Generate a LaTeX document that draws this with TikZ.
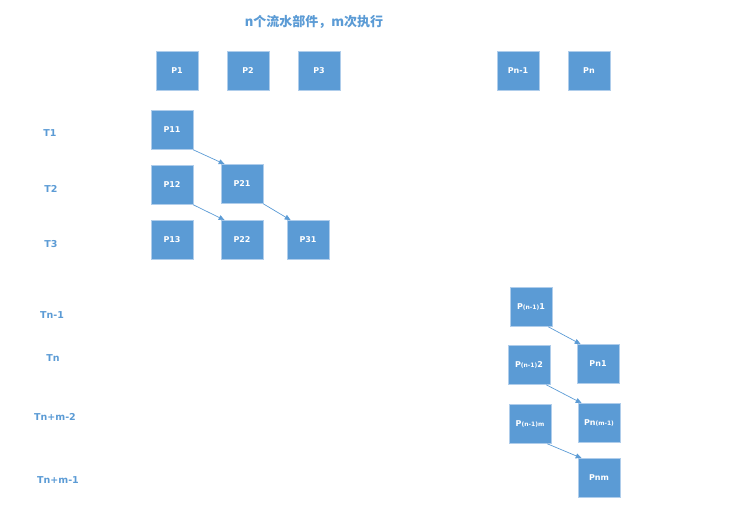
\documentclass[tikz,border=0pt]{standalone}
\usepackage{fontspec}
\setmainfont{DejaVu Sans}
\newfontfamily\cjkfont{Noto Sans CJK SC}
\usetikzlibrary{arrows.meta, shadows}

\definecolor{boxblue}{RGB}{91,155,213}
\definecolor{edgeblue}{RGB}{175,205,235}

\begin{document}
\begin{tikzpicture}[
        x=1pt, y=-1pt,
        stage/.style={rectangle, draw=edgeblue, line width=0.6pt, fill=boxblue, minimum width=42pt, minimum height=39pt, inner sep=0pt, text=white, font=\bfseries\fontsize{8}{9}\selectfont, drop shadow={opacity=0.15, shadow xshift=1pt, shadow yshift=-1pt}},
        tlabel/.style={text=boxblue, font=\bfseries\fontsize{9.5}{11}\selectfont},
        arrow/.style={draw=boxblue, line width=0.7pt, -{Triangle[length=6pt, width=5pt]}}
    ]
    \useasboundingbox (0,0) rectangle (740,510);
    \newcommand{\sm}[1]{{\fontsize{6}{6}\selectfont #1}}

    % Title
    \node [text=boxblue, font=\cjkfont\bfseries\fontsize{13}{15}\selectfont] (title) at (314,22) {n个流水部件，m次执行};

    % Pipeline parts
    \node [stage] (p1) at (177,71) {P1};
    \node [stage] (p2) at (248,71) {P2};
    \node [stage] (p3) at (319,71) {P3};
    \node [stage] (pn1) at (518,71) {Pn-1};
    \node [stage] (pn) at (589,71) {Pn};

    % Time labels
    \node [tlabel] (t1) at (50,133) {T1};
    \node [tlabel] (t2) at (51,189) {T2};
    \node [tlabel] (t3) at (51,244) {T3};
    \node [tlabel] (tnm1) at (52,315) {Tn-1};
    \node [tlabel] (tn) at (53,358) {Tn};
    \node [tlabel] (tnm2) at (55,417) {Tn+m-2};
    \node [tlabel] (tnm) at (58,480) {Tn+m-1};

    % First parts
    \node [stage] (p11) at (172,130) {P11};
    \node [stage] (p12) at (172,185) {P12};
    \node [stage] (p13) at (172,240) {P13};
    \node [stage] (p21) at (242,184) {P21};
    \node [stage] (p22) at (242,240) {P22};
    \node [stage] (p31) at (308,240) {P31};

    % Last parts
    \node [stage] (pa1) at (531,307) {P\sm{(n-1)}1};
    \node [stage] (pa2) at (529,365) {P\sm{(n-1)}2};
    \node [stage] (pam) at (530,424) {P\sm{(n-1)m}};
    \node [stage] (pb1) at (598,364) {Pn1};
    \node [stage] (pbm1) at (599,423) {Pn\sm{(m-1)}};
    \node [stage] (pbm) at (599,478) {Pnm};

    % Connecting Lines
    \draw [arrow] (p11.south east) -- ([xshift=4pt]p21.north west);
    \draw [arrow] (p12.south east) -- ([xshift=4pt]p22.north west);
    \draw [arrow] (p21.south east) -- ([xshift=4pt]p31.north west);
    \draw [arrow] ([xshift=-4pt]pa1.south east) -- ([xshift=4pt]pb1.north west);
    \draw [arrow] ([xshift=-4pt]pa2.south east) -- ([xshift=4pt]pbm1.north west);
    \draw [arrow] ([xshift=-4pt]pam.south east) -- ([xshift=4pt]pbm.north west);

\end{tikzpicture}
\end{document}
